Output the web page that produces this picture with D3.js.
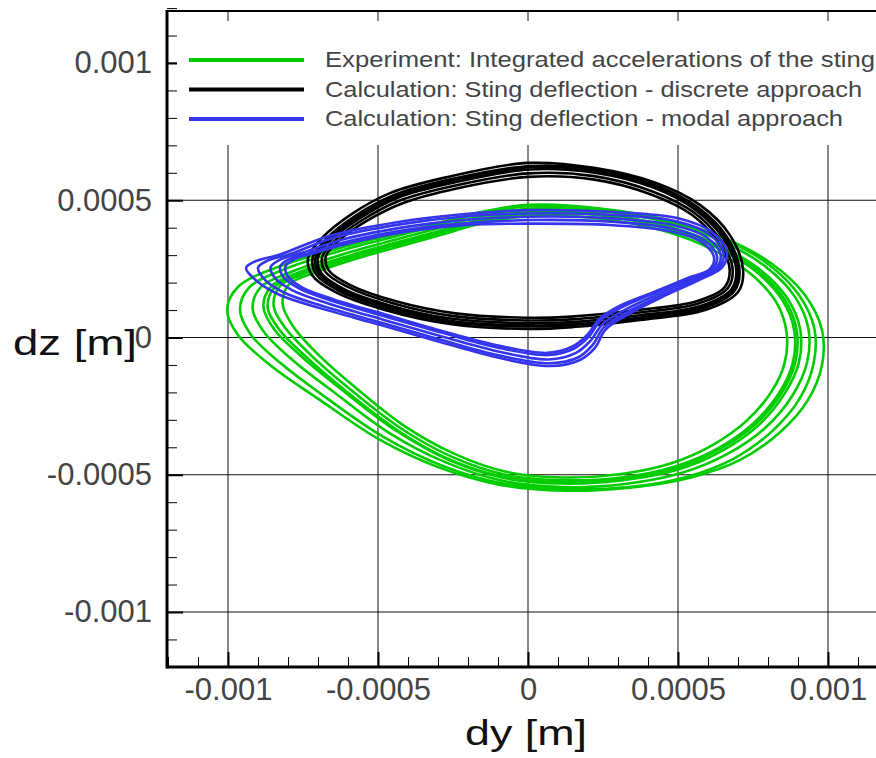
<!DOCTYPE html>
<html>
<head>
<meta charset="utf-8">
<script src="https://cdn.jsdelivr.net/npm/d3@7/dist/d3.min.js"></script>
<style>
  body { margin: 0; background: #fff; }
  svg { display: block; }
</style>
</head>
<body>
<main></main>
<script>
// tick values are in metres, curve points in micrometres
const xTicks = [-0.001, -0.0005, 0, 0.0005, 0.001]
const yTicks = [-0.001, -0.0005, 0, 0.0005, 0.001]
const xTickLabels = ['-0.001', '-0.0005', '0', '0.0005', '0.001']
const yTickLabels = ['-0.001', '-0.0005', '0', '0.0005', '0.001']
const minorTicks = [-0.0012, -0.0011, -0.0009, -0.0008, -0.0007, -0.0006, -0.0004, -0.0003, -0.0002, -0.0001,
    0.0001, 0.0002, 0.0003, 0.0004, 0.0006, 0.0007, 0.0008, 0.0009, 0.0011, 0.0012]

const seriesNames = [
    'Experiment: Integrated accelerations of the sting',
    'Calculation: Sting deflection - discrete approach',
    'Calculation: Sting deflection - modal approach'
]
const seriesColors = ['#00cc00', '#000000', '#3535ee']

// experiment, integrated accelerations (dy, dz) in µm, one array per cycle
const greenLoops = [
    [[0,483],[240,470],[473,426],[657,361],[807,273],[923,155],[980,27],[980,-100],[933,-228],[840,-345],[707,-446],[540,-511],[340,-547],[123,-558],[-93,-537],[-293,-475],[-493,-373],[-693,-228],[-860,-100],[-967,9],[-1003,100],[-967,184],[-843,253],[-627,326],[-360,399],[-177,452]],
    [[0,478],[240,468],[470,425],[655,358],[800,268],[905,152],[955,30],[952,-95],[906,-222],[815,-340],[688,-440],[528,-508],[335,-545],[120,-552],[-92,-530],[-288,-466],[-482,-362],[-672,-220],[-822,-96],[-925,12],[-960,102],[-930,182],[-818,246],[-612,320],[-350,394],[-170,448]],
    [[10,470],[245,460],[472,418],[648,350],[790,260],[890,148],[935,30],[930,-92],[880,-214],[792,-328],[665,-424],[510,-494],[322,-534],[115,-545],[-85,-522],[-276,-454],[-462,-348],[-640,-205],[-785,-82],[-880,20],[-918,106],[-890,184],[-782,242],[-590,312],[-340,386],[-160,440]],
    [[15,462],[248,450],[465,405],[632,338],[770,250],[866,140],[908,25],[902,-95],[852,-210],[768,-320],[648,-412],[498,-482],[316,-520],[115,-532],[-80,-512],[-265,-446],[-442,-338],[-614,-196],[-752,-72],[-845,28],[-882,112],[-856,186],[-758,240],[-575,305],[-330,378],[-150,432]],
    [[20,455],[250,444],[460,398],[622,331],[758,242],[848,136],[888,22],[882,-95],[835,-206],[752,-312],[636,-402],[490,-470],[312,-510],[115,-520],[-75,-500],[-255,-434],[-428,-328],[-596,-186],[-724,-64],[-810,36],[-848,116],[-826,188],[-732,238],[-560,300],[-322,372],[-145,425]],
    [[25,445],[252,432],[455,388],[612,322],[742,232],[828,128],[862,18],[855,-95],[810,-200],[730,-302],[618,-390],[478,-458],[305,-498],[115,-510],[-70,-490],[-245,-424],[-415,-320],[-580,-178],[-705,-56],[-785,44],[-818,122],[-798,192],[-712,236],[-548,295],[-315,366],[-140,420]],
    [[15,458],[246,448],[462,402],[628,334],[762,246],[856,138],[896,24],[890,-95],[842,-208],[758,-316],[640,-406],[494,-476],[314,-516],[115,-527],[-78,-508],[-262,-444],[-438,-336],[-608,-194],[-740,-70],[-830,30],[-868,112],[-842,186],[-746,240],[-568,302],[-326,375],[-148,430]]
]

// discrete approach
const blackLoops = [
    [[0,636],[220,618],[427,563],[573,483],[673,373],[717,246],[700,166],[590,100],[373,64],[150,38],[0,31],[-260,49],[-477,100],[-643,166],[-720,228],[-733,290],[-687,362],[-593,446],[-460,526],[-267,585]],
    [[10,625],[225,612],[425,555],[565,475],[662,368],[705,245],[688,170],[582,106],[370,70],[150,46],[0,40],[-255,56],[-468,106],[-630,170],[-706,230],[-718,290],[-672,360],[-580,440],[-448,518],[-258,576]],
    [[5,612],[222,600],[420,545],[558,465],[652,360],[694,247],[678,176],[575,115],[366,80],[148,56],[-5,52],[-252,68],[-458,116],[-616,178],[-690,236],[-700,292],[-656,356],[-564,432],[-436,508],[-248,564]],
    [[0,598],[220,588],[415,532],[552,456],[642,354],[682,249],[666,180],[568,124],[362,90],[146,66],[-5,62],[-248,78],[-448,124],[-604,186],[-676,240],[-686,293],[-644,353],[-552,428],[-425,500],[-240,554]],
    [[0,585],[216,576],[408,522],[545,448],[632,350],[672,251],[656,184],[562,132],[358,99],[144,76],[-5,72],[-242,88],[-440,132],[-594,192],[-664,244],[-674,295],[-632,351],[-542,422],[-416,490],[-234,544]],
    [[8,620],[228,606],[422,550],[562,470],[658,364],[700,246],[684,172],[578,110],[368,72],[150,48],[0,44],[-254,60],[-462,112],[-622,174],[-698,234],[-708,291],[-664,358],[-572,436],[-442,512],[-252,570]]
]

// modal approach
const blueLoops = [
    [[0,464],[290,457],[497,435],[613,384],[663,312],[647,255],[573,211],[440,144],[323,78],[257,27],[223,-38],[173,-82],[73,-104],[-93,-75],[-293,-16],[-493,46],[-693,107],[-827,155],[-900,202],[-940,253],[-910,277],[-827,302],[-660,371],[-427,422],[-227,448]],
    [[5,452],[285,446],[490,424],[604,376],[652,307],[636,253],[564,212],[434,148],[320,86],[252,36],[215,-28],[168,-72],[72,-94],[-94,-66],[-291,-8],[-488,54],[-682,114],[-810,162],[-875,208],[-900,254],[-870,279],[-792,304],[-640,366],[-416,414],[-222,440]],
    [[8,440],[282,434],[482,410],[594,366],[642,302],[626,251],[554,214],[428,155],[315,96],[248,48],[208,-12],[160,-56],[69,-80],[-95,-52],[-287,4],[-480,64],[-666,124],[-785,172],[-842,215],[-858,256],[-830,282],[-758,307],[-615,358],[-400,404],[-215,428]],
    [[12,428],[278,422],[475,398],[584,357],[630,296],[614,249],[544,216],[422,162],[309,108],[242,62],[202,2],[154,-40],[67,-64],[-95,-38],[-282,16],[-474,76],[-652,133],[-762,178],[-815,220],[-826,259],[-798,284],[-728,308],[-592,352],[-388,395],[-208,416]],
    [[15,415],[272,410],[468,388],[575,350],[620,292],[605,248],[535,218],[418,165],[305,115],[238,68],[198,10],[150,-32],[65,-56],[-95,-30],[-280,22],[-470,82],[-645,138],[-752,182],[-800,222],[-808,260],[-780,285],[-712,308],[-580,348],[-380,390],[-205,410]]
]

const width = 876
const height = 758
const plot = { left: 167, right: 888, top: 11, bottom: 667 }

let svg = d3.select('main')
    .append('svg')
    .attr('width', width)
    .attr('height', height)

let x = d3.scaleLinear().domain([-0.001, 0.001]).range([228, 828])
let y = d3.scaleLinear().domain([-0.001, 0.001]).range([612, 63])

// grid
let grid = svg.append('g')
xTicks.forEach(t => {
    grid.append('line')
        .attr('x1', x(t)).attr('x2', x(t))
        .attr('y1', plot.top).attr('y2', plot.bottom)
        .style('stroke', '#111').style('stroke-width', 1)
})
yTicks.forEach(t => {
    grid.append('line')
        .attr('x1', plot.left).attr('x2', plot.right)
        .attr('y1', y(t)).attr('y2', y(t))
        .style('stroke', '#111').style('stroke-width', 1)
})

// inward ticks
let tickFont = '"Liberation Sans", Arial, sans-serif'

let xAxis = svg.append('g')
    .attr('transform', `translate(0,${plot.bottom})`)
    .call(d3.axisBottom(x).tickValues(xTicks)
        .tickFormat((d, i) => xTickLabels[i])
        .tickSizeInner(-15).tickSizeOuter(0).tickPadding(11))
xAxis.select('.domain').remove()
xAxis.selectAll('line').style('stroke-width', 2)

let xMinor = svg.append('g')
    .attr('transform', `translate(0,${plot.bottom})`)
    .call(d3.axisBottom(x).tickValues(minorTicks).tickFormat('')
        .tickSizeInner(-10).tickSizeOuter(0))
xMinor.select('.domain').remove()

let yAxis = svg.append('g')
    .attr('transform', `translate(${plot.left},0)`)
    .call(d3.axisLeft(y).tickValues(yTicks)
        .tickFormat((d, i) => yTickLabels[i])
        .tickSizeInner(-16).tickSizeOuter(0).tickPadding(15))
yAxis.select('.domain').remove()
yAxis.selectAll('line').style('stroke-width', 2)

let yMinor = svg.append('g')
    .attr('transform', `translate(${plot.left},0)`)
    .call(d3.axisLeft(y).tickValues(minorTicks).tickFormat('')
        .tickSizeInner(-10).tickSizeOuter(0))
yMinor.select('.domain').remove()

svg.selectAll('.tick text')
    .style('font-family', tickFont)
    .style('font-size', '31px')
    .style('fill', '#444')

// curves
let line = d3.line()
    .x(d => x(d[0] * 1e-6))
    .y(d => y(d[1] * 1e-6))
    .curve(d3.curveCatmullRomClosed.alpha(0.5))

let allLoops = [greenLoops, blackLoops, blueLoops]
allLoops.forEach((loops, s) => {
    svg.append('g')
        .selectAll('path')
        .data(loops)
        .join('path')
        .attr('d', line)
        .style('fill', 'none')
        .style('stroke', seriesColors[s])
        .style('stroke-width', 2.6)
        .style('stroke-linejoin', 'round')
})

// legend
svg.append('rect')
    .attr('x', 177).attr('y', 21)
    .attr('width', 720).attr('height', 124)
    .style('fill', '#fff')

let legendWidths = [550, 537, 518]
seriesNames.forEach((name, i) => {
    let ly = 60 + i * 29.5
    svg.append('line')
        .attr('x1', 189).attr('x2', 304)
        .attr('y1', ly).attr('y2', ly)
        .style('stroke', seriesColors[i])
        .style('stroke-width', 4)
    svg.append('text')
        .attr('x', 325).attr('y', ly + 7)
        .attr('textLength', legendWidths[i])
        .attr('lengthAdjust', 'spacingAndGlyphs')
        .style('font-family', tickFont)
        .style('font-size', '22px')
        .style('fill', '#444')
        .text(name)
})

// frame
svg.append('line')
    .attr('x1', plot.left).attr('x2', plot.right)
    .attr('y1', plot.top).attr('y2', plot.top)
    .style('stroke', '#000').style('stroke-width', 2)
svg.append('line')
    .attr('x1', plot.left).attr('x2', plot.right)
    .attr('y1', plot.bottom).attr('y2', plot.bottom)
    .style('stroke', '#000').style('stroke-width', 3)
svg.append('line')
    .attr('x1', plot.left).attr('x2', plot.left)
    .attr('y1', plot.top - 1).attr('y2', plot.bottom + 1.5)
    .style('stroke', '#000').style('stroke-width', 3)

// axis titles
svg.append('text')
    .attr('x', 465).attr('y', 745)
    .attr('textLength', 122)
    .attr('lengthAdjust', 'spacingAndGlyphs')
    .style('font-family', tickFont)
    .style('font-size', '35px')
    .style('fill', '#111')
    .text('dy [m]')

svg.append('text')
    .attr('x', 13).attr('y', 355)
    .attr('textLength', 124)
    .attr('lengthAdjust', 'spacingAndGlyphs')
    .style('font-family', tickFont)
    .style('font-size', '35px')
    .style('fill', '#111')
    .text('dz [m]')
</script>
</body>
</html>
